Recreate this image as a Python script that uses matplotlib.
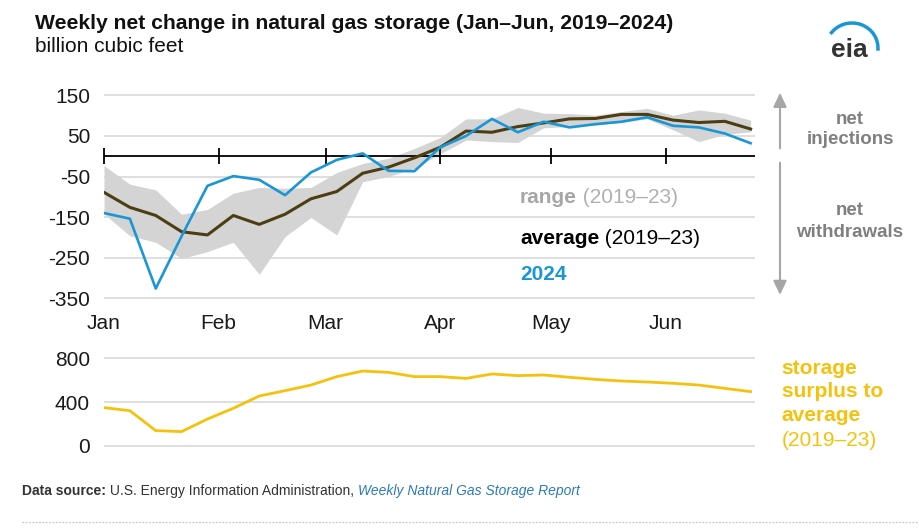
import numpy as np
import matplotlib
matplotlib.use('Agg')
import matplotlib.pyplot as plt
from matplotlib.patches import Arc, FancyArrowPatch

plt.rcParams['font.family'] = ['Liberation Sans', 'DejaVu Sans']
plt.rcParams['axes.unicode_minus'] = False

# ---------------- data ----------------
months = ['Jan', 'Feb', 'Mar', 'Apr', 'May', 'Jun']
month_start_day = [0, 31, 60, 91, 121, 152]
week_index = list(range(26))

net_2024 = [-140, -154, -326, -197, -73, -49, -58, -96, -40, -9, 7, -36, -37,
            22, 50, 92, 59, 85, 71, 79, 85, 96, 75, 71, 56, 32]
avg_2019_23 = [-89, -126, -146, -186, -194, -146, -168, -143, -105, -87, -42, -27, -4,
               22, 62, 59, 73, 82, 92, 93, 103, 103, 89, 83, 86, 67]
range_high = [-23, -69, -83, -143, -131, -91, -77, -79, -77, -40, -18, -5, 19,
              46, 92, 92, 120, 106, 105, 101, 110, 118, 101, 114, 106, 89]
range_low = [-142, -196, -212, -252, -235, -212, -291, -198, -151, -194, -63, -50, -30,
             6, 40, 36, 34, 70, 73, 77, 83, 92, 65, 36, 54, 60]
surplus = [350, 322, 140, 131, 246, 344, 456, 505, 556, 633, 684, 672, 633,
           633, 617, 657, 642, 648, 627, 608, 593, 584, 572, 556, 526, 496]

top_yticks = [150, 50, -50, -150, -250, -350]
bottom_yticks = [800, 400, 0]

# ---------------- style ----------------
BLUE = '#1a96d4'
BROWN = '#4c3d12'
BAND = '#d4d4d4'
YELLOW = '#f4c20d'
GRID = '#d9d9d9'
TXT = '#1a1a1a'

W, H = 919, 531
fig = plt.figure(figsize=(W / 100, H / 100), dpi=100)


def rect(l, t, r, b):
    return [l / W, 1 - b / H, (r - l) / W, (b - t) / H]


days = np.array(week_index) * 7
XMAX = (755 - 104) / 3.695

# ---- top panel ----
ax1 = fig.add_axes(rect(104, 93.3, 755, 300.3))
ax1.set_xlim(0, XMAX)
ax1.set_ylim(-355, 155)
for s in ax1.spines.values():
    s.set_visible(False)
ax1.set_yticks(top_yticks)
ax1.set_yticklabels([str(v) for v in top_yticks])
ax1.set_xticks(month_start_day)
ax1.set_xticklabels(months)
ax1.grid(axis='y', color=GRID, lw=1.2)
ax1.set_axisbelow(True)
ax1.tick_params(axis='both', length=0, labelsize=15, colors=TXT)
ax1.tick_params(axis='y', pad=10)
ax1.tick_params(axis='x', pad=9.7)
ax1.fill_between(days, range_low, range_high, color=BAND, lw=0, zorder=1)
ax1.axhline(0, color='black', lw=1.3, zorder=2)
ax1.plot(month_start_day, [0] * len(month_start_day), ls='none', marker='|',
         ms=12, mew=1.3, color='black', zorder=2, clip_on=False)
ax1.plot(days, avg_2019_23, color=BROWN, lw=2.2, zorder=3)
ax1.plot(days, net_2024, color=BLUE, lw=1.9, zorder=4)

# ---- bottom panel ----
ax2 = fig.add_axes(rect(104, 356.7, 755, 447.6))
ax2.set_xlim(0, XMAX)
ax2.set_ylim(-15, 815)
for s in ax2.spines.values():
    s.set_visible(False)
ax2.set_yticks(bottom_yticks)
ax2.set_yticklabels([str(v) for v in bottom_yticks])
ax2.set_xticks([])
ax2.grid(axis='y', color=GRID, lw=1.2)
ax2.set_axisbelow(True)
ax2.tick_params(axis='both', length=0, labelsize=15, colors=TXT)
ax2.tick_params(axis='y', pad=10)
ax2.plot(days, surplus, color=YELLOW, lw=2.0, zorder=3)

# ---- overlay (pixel coordinates) ----
ax0 = fig.add_axes([0, 0, 1, 1])
ax0.set_xlim(0, W)
ax0.set_ylim(H, 0)
ax0.axis('off')
ax0.patch.set_visible(False)

renderer = fig.canvas.get_renderer()


def runs(x, y, parts, size):
    for s, weight, style, color in parts:
        t = ax0.text(x, y, s, fontsize=size, fontweight=weight, fontstyle=style,
                     color=color, va='baseline', ha='left')
        x += t.get_window_extent(renderer).width


# title
ax0.text(35, 29, 'Weekly net change in natural gas storage (Jan\u2013Jun, 2019\u20132024)',
         fontsize=15.25, fontweight='bold', color='#111111', va='baseline')
ax0.text(35, 52, 'billion cubic feet', fontsize=15, color='#111111', va='baseline')

# legend labels
runs(520, 202.7, [('range', 'bold', 'normal', '#a6a6a6'),
                  (' (2019\u201323)', 'normal', 'normal', '#b0b0b0')], 15)
runs(520, 244, [('average', 'bold', 'normal', '#000000'),
                (' (2019\u201323)', 'normal', 'normal', '#000000')], 15)
runs(520, 280, [('2024', 'bold', 'normal', BLUE)], 15)

# net injections / withdrawals
for txt, yb in [('net', 124), ('injections', 144), ('net', 215), ('withdrawals', 236.7)]:
    ax0.text(850, yb, txt, fontsize=13.5, fontweight='bold', color='#808080',
             ha='center', va='baseline')

arrow_kw = dict(arrowstyle='-|>,head_length=0.85,head_width=0.4', mutation_scale=10,
                color='#a6a6a6', lw=1.5, shrinkA=0, shrinkB=0)
ax0.add_patch(FancyArrowPatch((780, 148.3), (780, 92.7), **arrow_kw))
ax0.add_patch(FancyArrowPatch((780, 162.7), (780, 295), **arrow_kw))

# storage surplus label
for txt, yb, wt in [('storage', 374, 'bold'), ('surplus to', 396.7, 'bold'),
                    ('average', 420.7, 'bold'), ('(2019\u201323)', 446, 'normal')]:
    ax0.text(781.7, yb, txt, fontsize=15, fontweight=wt, color=YELLOW, va='baseline')

# eia logo
ax0.text(849, 56.7, 'eia', fontsize=19, fontweight='bold', color='#333333',
         ha='center', va='baseline')
ax0.add_patch(Arc((852, 48), 52, 50, theta1=-147, theta2=6, color=BLUE, lw=2.5))

# footer
runs(22, 495, [('Data source:', 'bold', 'normal', '#333333'),
               (' U.S. Energy Information Administration, ', 'normal', 'normal', '#333333'),
               ('Weekly Natural Gas Storage Report', 'normal', 'italic', '#2b7bb9')], 10)
ax0.plot([22, 919], [522, 522], color='#c0c0c0', lw=0.8, ls=(0, (1.5, 1.5)))

fig.savefig('out.png', dpi=100)
